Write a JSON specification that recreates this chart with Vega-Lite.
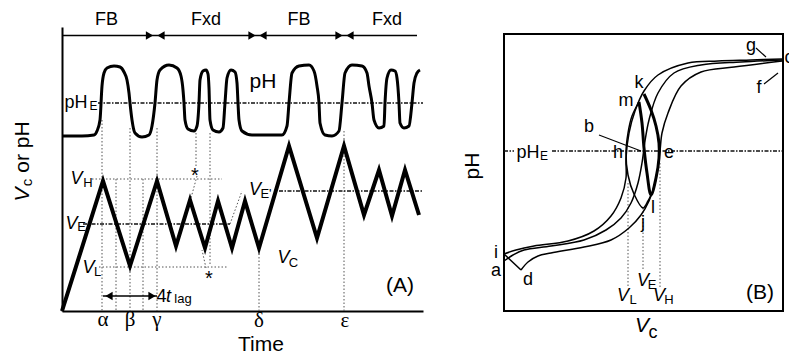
{
  "$schema": "https://vega.github.io/schema/vega-lite/v6.json",
  "padding": {"left": 12, "top": 10, "right": 0, "bottom": 0},
  "spacing": 3,
  "config": {"view": {"stroke": null}, "font": "Liberation Sans"},
  "datasets": {
    "vc": [{"x":0,"y":0},{"x":41,"y":130},{"x":68,"y":45},{"x":95,"y":130},{"x":114,"y":65},{"x":128,"y":111},{"x":143,"y":63},{"x":156,"y":110},{"x":170,"y":63},{"x":183,"y":110},{"x":197,"y":63},{"x":227,"y":165},{"x":255,"y":73},{"x":282,"y":165},{"x":302,"y":96},{"x":317,"y":141},{"x":330,"y":95},{"x":343,"y":141},{"x":357,"y":96}],
    "ph": [{"x":0,"y":175},{"x":20,"y":175},{"x":32,"y":176},{"x":35,"y":180},{"x":38,"y":191},{"x":40,"y":225},{"x":42,"y":238},{"x":45,"y":243},{"x":52,"y":245},{"x":58,"y":244},{"x":62,"y":239},{"x":65,"y":231},{"x":67,"y":218},{"x":68,"y":208},{"x":70,"y":191},{"x":73,"y":178},{"x":80,"y":174},{"x":87,"y":176},{"x":90,"y":185},{"x":93,"y":208},{"x":95,"y":231},{"x":98,"y":241},{"x":107,"y":246},{"x":115,"y":243},{"x":119,"y":235},{"x":121,"y":221},{"x":122,"y":208},{"x":123,"y":191},{"x":126,"y":182},{"x":132,"y":180},{"x":135,"y":185},{"x":137,"y":208},{"x":138,"y":231},{"x":141,"y":240},{"x":144,"y":241},{"x":146,"y":237},{"x":147,"y":223},{"x":148,"y":191},{"x":151,"y":181},{"x":157,"y":179},{"x":161,"y":183},{"x":163,"y":208},{"x":165,"y":233},{"x":169,"y":241},{"x":173,"y":239},{"x":175,"y":228},{"x":176,"y":208},{"x":177,"y":191},{"x":180,"y":180},{"x":190,"y":176},{"x":220,"y":176},{"x":225,"y":185},{"x":227,"y":208},{"x":230,"y":238},{"x":237,"y":245},{"x":247,"y":246},{"x":252,"y":240},{"x":255,"y":225},{"x":257,"y":208},{"x":258,"y":188},{"x":263,"y":176},{"x":270,"y":175},{"x":277,"y":180},{"x":280,"y":208},{"x":283,"y":238},{"x":290,"y":246},{"x":300,"y":245},{"x":305,"y":238},{"x":307,"y":225},{"x":310,"y":208},{"x":312,"y":191},{"x":317,"y":183},{"x":322,"y":185},{"x":323,"y":208},{"x":325,"y":233},{"x":329,"y":241},{"x":333,"y":240},{"x":335,"y":233},{"x":337,"y":208},{"x":338,"y":188},{"x":342,"y":183},{"x":347,"y":185},{"x":350,"y":208},{"x":352,"y":228},{"x":355,"y":238},{"x":358,"y":241}],
    "aguide": [
      {"x":40,"y":191,"x2":40,"y2":0,"k":"dot"},
      {"x":54,"y":132,"x2":54,"y2":0,"k":"dot"},
      {"x":68,"y":183,"x2":68,"y2":0,"k":"dot"},
      {"x":81,"y":132,"x2":81,"y2":0,"k":"dot"},
      {"x":95,"y":183,"x2":95,"y2":0,"k":"dot"},
      {"x":134,"y":178,"x2":134,"y2":143,"k":"dot"},
      {"x":148,"y":178,"x2":148,"y2":45,"k":"dot"},
      {"x":197,"y":61,"x2":197,"y2":0,"k":"dot"},
      {"x":282,"y":180,"x2":282,"y2":0,"k":"dot"},
      {"x":30,"y":132,"x2":160,"y2":132,"k":"dot"},
      {"x":37,"y":44,"x2":165,"y2":44,"k":"dot"},
      {"x":168,"y":87,"x2":180,"y2":120,"k":"dot"},
      {"x":135,"y":135,"x2":129,"y2":113,"k":"dot"},
      {"x":144,"y":43,"x2":140,"y2":61,"k":"dot"},
      {"x":21,"y":87,"x2":168,"y2":87,"k":"dd"},
      {"x":217,"y":120,"x2":361,"y2":120,"k":"dd"},
      {"x":36,"y":208,"x2":361,"y2":208,"k":"dd"},
      {"x":0,"y":275.5,"x2":355,"y2":275.5,"k":"solid"},
      {"x":41,"y":15,"x2":95,"y2":15,"k":"solid"}
    ],
    "aarrow": [
      {"x":87.5,"y":275.5,"dir":"right"},{"x":99,"y":275.5,"dir":"left"},
      {"x":190,"y":275.5,"dir":"right"},{"x":201,"y":275.5,"dir":"left"},
      {"x":277,"y":275.5,"dir":"right"},{"x":288,"y":275.5,"dir":"left"},
      {"x":47,"y":15,"dir":"left"},{"x":90,"y":15,"dir":"right"}
    ],
    "atext": [
      {"x":44.5,"y":291.5,"s":"FB","r":"phase"},
      {"x":144,"y":291.5,"s":"Fxd","r":"phase"},
      {"x":237,"y":291.5,"s":"FB","r":"phase"},
      {"x":325,"y":291.5,"s":"Fxd","r":"phase"},
      {"x":201,"y":229,"s":"pH","r":"title"},
      {"x":14,"y":208,"s":"pH","r":"ref"},
      {"x":31.5,"y":205,"s":"E","r":"refsub"},
      {"x":14.5,"y":132,"s":"V","r":"v"},
      {"x":26,"y":128,"s":"H","r":"sub"},
      {"x":9.5,"y":87,"s":"V","r":"v"},
      {"x":19.5,"y":84,"s":"E","r":"sub"},
      {"x":26.5,"y":43,"s":"V","r":"v"},
      {"x":35.5,"y":39,"s":"L","r":"sub"},
      {"x":193,"y":121,"s":"V","r":"v"},
      {"x":204,"y":117,"s":"E'","r":"sub"},
      {"x":221.5,"y":53,"s":"V","r":"v"},
      {"x":231.5,"y":48,"s":"C","r":"sub"},
      {"x":338,"y":25,"s":"(A)","r":"title"},
      {"x":99.5,"y":14.5,"s":"4","r":"phase"},
      {"x":106.5,"y":14.5,"s":"t","r":"v"},
      {"x":121,"y":12,"s":"lag","r":"sub"},
      {"x":199,"y":-34,"s":"Time","r":"title"},
      {"x":41,"y":-9,"s":"α","r":"greek"},
      {"x":68,"y":-9,"s":"β","r":"greek"},
      {"x":95,"y":-9,"s":"γ","r":"greek"},
      {"x":197,"y":-10,"s":"δ","r":"greek"},
      {"x":283,"y":-10,"s":"ε","r":"greek"},
      {"x":133,"y":140,"s":"*","r":"star"},
      {"x":147,"y":37,"s":"*","r":"star"},
      {"x":-39,"y":116.5,"s":"V","r":"rotv"},
      {"x":-35,"y":128.5,"s":"c","r":"rotsub"},
      {"x":-39,"y":164,"s":"or pH","r":"rottitle"}
    ],
    "bcurve": [
      {"c":"T","i":0,"x":0,"y":57},{"c":"T","i":1,"x":12,"y":61},{"c":"T","i":2,"x":30,"y":65},{"c":"T","i":3,"x":64,"y":70},{"c":"T","i":4,"x":90,"y":80},{"c":"T","i":5,"x":107,"y":95},{"c":"T","i":6,"x":117,"y":113},{"c":"T","i":7,"x":122,"y":133},{"c":"T","i":8,"x":122,"y":153},{"c":"T","i":9,"x":125,"y":178},{"c":"T","i":10,"x":131,"y":200},{"c":"T","i":11,"x":140,"y":220},{"c":"T","i":12,"x":154,"y":236},{"c":"T","i":13,"x":184,"y":248},{"c":"T","i":14,"x":214,"y":250},{"c":"T","i":15,"x":247,"y":251},{"c":"T","i":16,"x":278,"y":252},
      {"c":"M","i":0,"x":0,"y":50},{"c":"M","i":1,"x":9,"y":56},{"c":"M","i":2,"x":20,"y":61},{"c":"M","i":3,"x":47,"y":65},{"c":"M","i":4,"x":80,"y":71},{"c":"M","i":5,"x":102,"y":81},{"c":"M","i":6,"x":117,"y":93},{"c":"M","i":7,"x":127,"y":108},{"c":"M","i":8,"x":134,"y":128},{"c":"M","i":9,"x":138,"y":148},{"c":"M","i":10,"x":141,"y":170},{"c":"M","i":11,"x":145,"y":191},{"c":"M","i":12,"x":154,"y":218},{"c":"M","i":13,"x":170,"y":238},{"c":"M","i":14,"x":197,"y":246},{"c":"M","i":15,"x":237,"y":249},{"c":"M","i":16,"x":278,"y":251},
      {"c":"R","i":0,"x":17,"y":41},{"c":"R","i":1,"x":24,"y":49},{"c":"R","i":2,"x":34,"y":55},{"c":"R","i":3,"x":47,"y":58},{"c":"R","i":4,"x":80,"y":64},{"c":"R","i":5,"x":107,"y":71},{"c":"R","i":6,"x":125,"y":83},{"c":"R","i":7,"x":137,"y":96},{"c":"R","i":8,"x":145,"y":110},{"c":"R","i":9,"x":151,"y":128},{"c":"R","i":10,"x":154,"y":145},{"c":"R","i":11,"x":156,"y":160},{"c":"R","i":12,"x":158,"y":178},{"c":"R","i":13,"x":164,"y":198},{"c":"R","i":14,"x":177,"y":225},{"c":"R","i":15,"x":197,"y":239},{"c":"R","i":16,"x":230,"y":244},{"c":"R","i":17,"x":278,"y":250},
      {"c":"hook","i":0,"x":0,"y":57},{"c":"hook","i":1,"x":17,"y":41},
      {"c":"lens","i":0,"x":135,"y":209},{"c":"lens","i":1,"x":128,"y":195},{"c":"lens","i":2,"x":124,"y":178},{"c":"lens","i":3,"x":122,"y":158},{"c":"lens","i":4,"x":124,"y":136},{"c":"lens","i":5,"x":130,"y":117},{"c":"lens","i":6,"x":139,"y":103},{"c":"lens","i":7,"x":144,"y":110},{"c":"lens","i":8,"x":147,"y":116}
    ],
    "bloop": [
      {"i":0,"x":135,"y":209},{"i":1,"x":138,"y":188},{"i":2,"x":140,"y":163},{"i":3,"x":143,"y":138},{"i":4,"x":147,"y":116},{"i":5,"x":152,"y":133},{"i":6,"x":155,"y":153},{"i":7,"x":155,"y":168},{"i":8,"x":152,"y":185},{"i":9,"x":147,"y":201},{"i":10,"x":140,"y":217}
    ],
    "bguide": [
      {"x":0,"y":160,"x2":10,"y2":160,"k":"dd"},
      {"x":48,"y":160,"x2":278,"y2":160,"k":"dd"},
      {"x":124,"y":128,"x2":124,"y2":23,"k":"dot"},
      {"x":139,"y":103,"x2":139,"y2":41,"k":"dot"},
      {"x":156,"y":148,"x2":156,"y2":23,"k":"dot"},
      {"x":95,"y":176,"x2":137,"y2":160,"k":"solid"},
      {"x":252,"y":263,"x2":262,"y2":254,"k":"solid"},
      {"x":260,"y":227,"x2":274,"y2":238,"k":"solid"}
    ],
    "bframe": [{"x":0,"y":0,"x2":279,"y2":277}],
    "btext": [
      {"x":135,"y":228,"s":"k","r":"letter"},
      {"x":122,"y":210,"s":"m","r":"letter"},
      {"x":85,"y":184,"s":"b","r":"letter"},
      {"x":114,"y":158,"s":"h","r":"letter"},
      {"x":165,"y":158,"s":"e","r":"letter"},
      {"x":247,"y":265,"s":"g","r":"letter"},
      {"x":285,"y":253,"s":"c","r":"letter"},
      {"x":255,"y":223,"s":"f","r":"letter"},
      {"x":-8,"y":58,"s":"i","r":"letter"},
      {"x":-8,"y":40,"s":"a","r":"letter"},
      {"x":24,"y":31,"s":"d","r":"letter"},
      {"x":139,"y":88,"s":"j","r":"letter"},
      {"x":149,"y":103,"s":"l","r":"letter"},
      {"x":24,"y":158,"s":"pH","r":"ref"},
      {"x":40,"y":155,"s":"E","r":"refsub"},
      {"x":119,"y":15,"s":"V","r":"v"},
      {"x":129,"y":11,"s":"L","r":"sub"},
      {"x":139,"y":30,"s":"V","r":"v"},
      {"x":148,"y":26,"s":"E","r":"sub"},
      {"x":155,"y":15,"s":"V","r":"v"},
      {"x":165,"y":11,"s":"H","r":"sub"},
      {"x":256,"y":18,"s":"(B)","r":"title"},
      {"x":138,"y":-15,"s":"V","r":"vbig"},
      {"x":149,"y":-22,"s":"c","r":"ref"},
      {"x":-31,"y":145,"s":"pH","r":"rottitle"}
    ]
  },
  "hconcat": [
    {
      "width": 361, "height": 284,
      "encoding": {
        "x": {"field": "x", "type": "quantitative", "scale": {"domain": [0, 361], "nice": false, "zero": false},
              "axis": {"orient": "bottom", "domain": true, "domainColor": "black", "domainWidth": 2, "ticks": false, "labels": false, "grid": false, "title": null}},
        "y": {"field": "y", "type": "quantitative", "scale": {"domain": [0, 284], "nice": false, "zero": false},
              "axis": {"orient": "left", "domain": true, "domainColor": "black", "domainWidth": 2, "ticks": false, "labels": false, "grid": false, "title": null}}
      },
      "layer": [
        {"data": {"name": "aguide"}, "transform": [{"filter": "datum.k === 'dot'"}],
         "mark": {"type": "rule", "color": "#555", "strokeWidth": 1, "strokeDash": [1.5, 2]},
         "encoding": {"x2": {"field": "x2"}, "y2": {"field": "y2"}}},
        {"data": {"name": "aguide"}, "transform": [{"filter": "datum.k === 'dd'"}],
         "mark": {"type": "rule", "color": "#111", "strokeWidth": 1.4, "strokeDash": [4, 1.5, 1.5, 1.5]},
         "encoding": {"x2": {"field": "x2"}, "y2": {"field": "y2"}}},
        {"data": {"name": "aguide"}, "transform": [{"filter": "datum.k === 'solid'"}],
         "mark": {"type": "rule", "color": "black", "strokeWidth": 1.3},
         "encoding": {"x2": {"field": "x2"}, "y2": {"field": "y2"}}},
        {"data": {"name": "vc"},
         "mark": {"type": "line", "color": "black", "strokeWidth": 4, "strokeJoin": "miter", "strokeMiterLimit": 20}},
        {"data": {"name": "ph"},
         "mark": {"type": "line", "color": "black", "strokeWidth": 3, "interpolate": "monotone"}},
        {"data": {"name": "aarrow"},
         "mark": {"type": "point", "filled": true, "color": "black", "opacity": 1, "size": 70},
         "encoding": {"shape": {"field": "dir", "type": "nominal", "scale": {"domain": ["right", "left"], "range": ["triangle-right", "triangle-left"]}, "legend": null}}},
        {"data": {"name": "atext"},
         "encoding": {"text": {"field": "s"}},
         "layer": [
           {"transform": [{"filter": "datum.r === 'phase'"}], "mark": {"type": "text", "align": "center", "baseline": "middle", "fontSize": 18}},
           {"transform": [{"filter": "datum.r === 'title'"}], "mark": {"type": "text", "align": "center", "baseline": "middle", "fontSize": 21}},
           {"transform": [{"filter": "datum.r === 'ref'"}], "mark": {"type": "text", "align": "center", "baseline": "middle", "fontSize": 18}},
           {"transform": [{"filter": "datum.r === 'refsub'"}], "mark": {"type": "text", "align": "center", "baseline": "middle", "fontSize": 12}},
           {"transform": [{"filter": "datum.r === 'sub'"}], "mark": {"type": "text", "align": "center", "baseline": "middle", "fontSize": 13}},
           {"transform": [{"filter": "datum.r === 'v'"}], "mark": {"type": "text", "align": "center", "baseline": "middle", "fontSize": 18, "fontStyle": "italic"}},
           {"transform": [{"filter": "datum.r === 'greek'"}], "mark": {"type": "text", "align": "center", "baseline": "middle", "fontSize": 21, "font": "Liberation Serif"}},
           {"transform": [{"filter": "datum.r === 'star'"}], "mark": {"type": "text", "align": "center", "baseline": "middle", "fontSize": 20, "dy": 5}},
           {"transform": [{"filter": "datum.r === 'rotv'"}], "mark": {"type": "text", "align": "center", "baseline": "middle", "fontSize": 21, "fontStyle": "italic", "angle": 270}},
           {"transform": [{"filter": "datum.r === 'rotsub'"}], "mark": {"type": "text", "align": "center", "baseline": "middle", "fontSize": 15, "angle": 270}},
           {"transform": [{"filter": "datum.r === 'rottitle'"}], "mark": {"type": "text", "align": "center", "baseline": "middle", "fontSize": 21, "angle": 270}}
         ]}
      ]
    },
    {
      "width": 279, "height": 284,
      "encoding": {
        "x": {"field": "x", "type": "quantitative", "scale": {"domain": [0, 279], "nice": false, "zero": false}, "axis": null},
        "y": {"field": "y", "type": "quantitative", "scale": {"domain": [0, 284], "nice": false, "zero": false}, "axis": null}
      },
      "layer": [
        {"data": {"name": "bframe"},
         "mark": {"type": "rect", "fill": null, "stroke": "black", "strokeWidth": 2},
         "encoding": {"x2": {"field": "x2"}, "y2": {"field": "y2"}}},
        {"data": {"name": "bguide"}, "transform": [{"filter": "datum.k === 'dot'"}],
         "mark": {"type": "rule", "color": "#555", "strokeWidth": 1, "strokeDash": [1.5, 2]},
         "encoding": {"x2": {"field": "x2"}, "y2": {"field": "y2"}}},
        {"data": {"name": "bguide"}, "transform": [{"filter": "datum.k === 'dd'"}],
         "mark": {"type": "rule", "color": "#111", "strokeWidth": 1.4, "strokeDash": [4, 1.5, 1.5, 1.5]},
         "encoding": {"x2": {"field": "x2"}, "y2": {"field": "y2"}}},
        {"data": {"name": "bguide"}, "transform": [{"filter": "datum.k === 'solid'"}],
         "mark": {"type": "rule", "color": "black", "strokeWidth": 1.2},
         "encoding": {"x2": {"field": "x2"}, "y2": {"field": "y2"}}},
        {"data": {"name": "bcurve"},
         "mark": {"type": "line", "color": "black", "strokeWidth": 1.5, "interpolate": "catmull-rom"},
         "encoding": {"detail": {"field": "c"}, "order": {"field": "i", "type": "quantitative"}}},
        {"data": {"name": "bloop"},
         "mark": {"type": "line", "color": "black", "strokeWidth": 3, "interpolate": "catmull-rom"},
         "encoding": {"order": {"field": "i", "type": "quantitative"}}},
        {"data": {"name": "btext"},
         "encoding": {"text": {"field": "s"}},
         "layer": [
           {"transform": [{"filter": "datum.r === 'letter'"}], "mark": {"type": "text", "align": "center", "baseline": "middle", "fontSize": 18}},
           {"transform": [{"filter": "datum.r === 'title'"}], "mark": {"type": "text", "align": "center", "baseline": "middle", "fontSize": 21}},
           {"transform": [{"filter": "datum.r === 'ref'"}], "mark": {"type": "text", "align": "center", "baseline": "middle", "fontSize": 18}},
           {"transform": [{"filter": "datum.r === 'refsub'"}], "mark": {"type": "text", "align": "center", "baseline": "middle", "fontSize": 12}},
           {"transform": [{"filter": "datum.r === 'sub'"}], "mark": {"type": "text", "align": "center", "baseline": "middle", "fontSize": 13}},
           {"transform": [{"filter": "datum.r === 'v'"}], "mark": {"type": "text", "align": "center", "baseline": "middle", "fontSize": 18, "fontStyle": "italic"}},
           {"transform": [{"filter": "datum.r === 'vbig'"}], "mark": {"type": "text", "align": "center", "baseline": "middle", "fontSize": 21, "fontStyle": "italic"}},
           {"transform": [{"filter": "datum.r === 'rottitle'"}], "mark": {"type": "text", "align": "center", "baseline": "middle", "fontSize": 21, "angle": 270}}
         ]}
      ]
    }
  ]
}
